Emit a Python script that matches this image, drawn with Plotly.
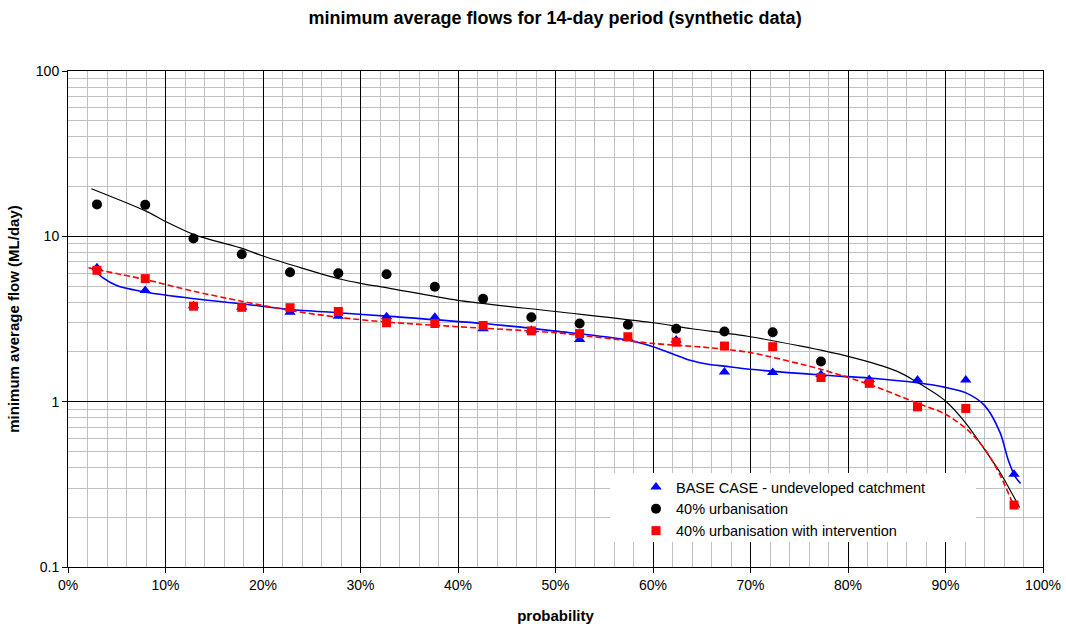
import plotly.graph_objects as go

# plotting positions (probability, %)
prob = [2.970, 7.921, 12.871, 17.822, 22.772, 27.723, 32.673, 37.624, 42.574, 47.525,
        52.475, 57.426, 62.376, 67.327, 72.277, 77.228, 82.178, 87.129, 92.079, 97.030]

base_case = [6.45, 4.7, 3.8, 3.72, 3.48, 3.29, 3.26, 3.24, 2.76, 2.7,
             2.38, 2.42, 2.36, 1.51, 1.50, 1.46, 1.36, 1.35, 1.35, 0.364]
urban40 = [15.6, 15.5, 9.7, 7.8, 6.06, 5.98, 5.9, 4.95, 4.19, 3.24,
           2.97, 2.92, 2.76, 2.66, 2.63, 1.75]
urban40_int = [6.23, 5.55, 3.78, 3.72, 3.70, 3.51, 3.0, 2.97, 2.89, 2.68,
               2.58, 2.47, 2.29, 2.17, 2.15, 1.40, 1.29, 0.93, 0.91, 0.237]

# fitted curves
base_fit_x = [2.5, 3.6, 5.0, 8.0, 13, 17.8, 22.8, 27.7, 32.7, 42.6, 50, 57.4, 60, 62.8,
              63.8, 65.8, 67.3, 70, 77.2, 82.2, 87.1, 90, 92.1, 94, 95.6, 96.4, 97.1, 97.7]
base_fit_y = [6.5, 5.6, 5.04, 4.59, 4.19, 3.91, 3.61, 3.45, 3.29, 2.97, 2.67, 2.36, 2.15, 1.87,
              1.78, 1.68, 1.64, 1.57, 1.45, 1.39, 1.30, 1.22, 1.13, 0.95, 0.65, 0.45, 0.356, 0.32]

urban_fit_x = [2.4, 8, 10, 13, 18, 20, 28, 30, 33, 40, 50, 60, 64, 70, 80, 85, 87.1, 90,
               92.1, 94, 95.6, 97.6]
urban_fit_y = [19.4, 14.2, 12.3, 10.2, 8.4, 7.6, 5.5, 5.2, 4.85, 4.1, 3.51, 3.0, 2.76, 2.47,
               1.88, 1.53, 1.31, 1.01, 0.74, 0.515, 0.373, 0.229]

int_fit_x = [2.1, 7.9, 12.9, 17.8, 22.8, 27.7, 32.7, 40, 50, 60, 65.8, 70, 77.2, 82.2, 87.1,
             90, 92.2, 94, 95.6, 96.8]
int_fit_y = [6.45, 5.48, 4.65, 4.05, 3.56, 3.24, 3.03, 2.84, 2.61, 2.25, 2.12, 1.98, 1.57,
             1.27, 0.98, 0.84, 0.68, 0.52, 0.36, 0.25]

names = ["BASE CASE - undeveloped catchment", "40% urbanisation",
         "40% urbanisation with intervention"]

FONT = "Liberation Sans, Arial, Helvetica, sans-serif"

fig = go.Figure()
fig.add_trace(go.Scatter(x=base_fit_x, y=base_fit_y, mode="lines", showlegend=False,
                         line=dict(color="#0000ff", width=1.6, shape="spline", smoothing=0.8),
                         hoverinfo="skip"))
fig.add_trace(go.Scatter(x=urban_fit_x, y=urban_fit_y, mode="lines", showlegend=False,
                         line=dict(color="#000000", width=1.2, shape="spline", smoothing=0.8),
                         hoverinfo="skip"))
fig.add_trace(go.Scatter(x=int_fit_x, y=int_fit_y, mode="lines", showlegend=False,
                         line=dict(color="#ff0000", width=1.6, dash="6px,3px",
                                   shape="spline", smoothing=0.8),
                         hoverinfo="skip"))

fig.add_trace(go.Scatter(x=prob, y=base_case, mode="markers", name=names[0],
                         marker=dict(symbol="triangle-up", size=10, color="#0000ff")))
fig.add_trace(go.Scatter(x=prob[:len(urban40)], y=urban40, mode="markers", name=names[1],
                         marker=dict(symbol="circle", size=10, color="#000000")))
fig.add_trace(go.Scatter(x=prob, y=urban40_int, mode="markers", name=names[2],
                         marker=dict(symbol="square", size=9, color="#ff0000")))

fig.update_layout(
    width=1066, height=627,
    margin=dict(l=68, r=23, t=71, b=60),
    paper_bgcolor="white", plot_bgcolor="white",
    font=dict(family=FONT, size=14, color="black"),
    title=dict(text="<b>minimum average flows for 14-day period (synthetic data)</b>",
               x=0.5207, xanchor="center", y=0.972, yanchor="middle",
               font=dict(size=18, family=FONT)),
    legend=dict(x=(636 - 68) / 975, xanchor="left", y=(567 - 471) / 496, yanchor="top",
                bgcolor="rgba(0,0,0,0)", borderwidth=0, font=dict(size=14.5, family=FONT),
                tracegroupgap=0),
    shapes=[dict(type="rect", xref="paper", yref="paper",
                 x0=(610 - 68) / 975, x1=(976 - 68) / 975,
                 y0=(567 - 542) / 496, y1=(567 - 473) / 496,
                 fillcolor="white", line=dict(width=0), layer="above")],
)

fig.update_xaxes(
    range=[0, 100], dtick=10, tick0=0, ticksuffix="%",
    showgrid=True, gridcolor="black", gridwidth=1,
    showline=True, linecolor="black", linewidth=1, mirror=True,
    ticks="outside", ticklen=5, tickcolor="black",
    zeroline=False, automargin=False,
    tickfont=dict(size=14, family=FONT),
    minor=dict(dtick=2, showgrid=True, gridcolor="#c0c0c0", gridwidth=1, ticks=""),
    title=dict(text="<b>probability</b>", font=dict(size=15, family=FONT), standoff=18),
)
fig.update_yaxes(
    type="log", range=[-1, 2], dtick=1,
    showgrid=True, gridcolor="black", gridwidth=1,
    showline=True, linecolor="black", linewidth=1, mirror=True,
    ticks="outside", ticklen=5, tickcolor="black",
    zeroline=False, automargin=False,
    tickfont=dict(size=14, family=FONT),
    minor=dict(dtick="D1", showgrid=True, gridcolor="#c0c0c0", gridwidth=1, ticks=""),
    title=dict(text="<b>minimum average flow (ML/day)</b>", font=dict(size=15, family=FONT),
               standoff=12),
)

fig.write_html("out.html")
